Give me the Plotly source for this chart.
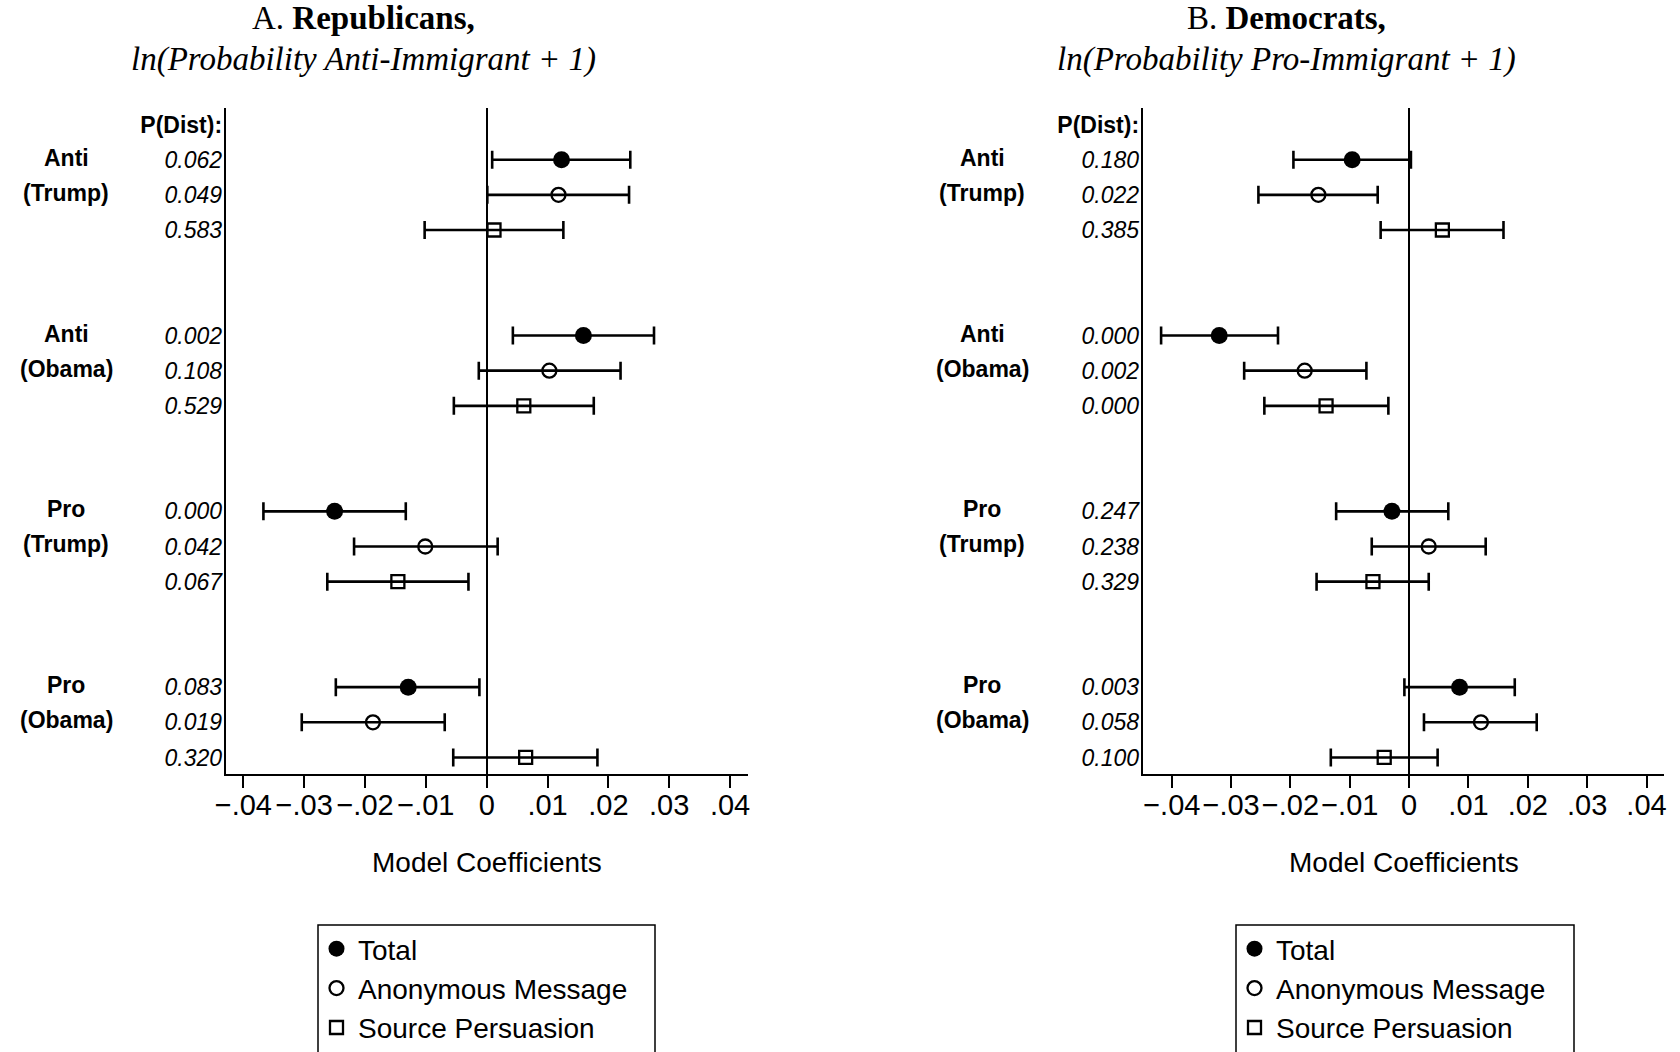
import plotly.graph_objects as go

W, H = 1680, 1052

# ---------------- data ----------------
group_direction = ["Anti", "Anti", "Pro", "Pro"]
group_source = ["(Trump)", "(Obama)", "(Trump)", "(Obama)"]
series_names = ["Total", "Anonymous Message", "Source Persuasion"]
x_tick_vals = [-0.04, -0.03, -0.02, -0.01, 0, 0.01, 0.02, 0.03, 0.04]
x_tick_text = ["\u2212.04", "\u2212.03", "\u2212.02", "\u2212.01", "0", ".01", ".02", ".03", ".04"]

# Panel A: Republicans (coefficient, lower CI, upper CI) per group
rep_total = [0.0123, 0.0159, -0.0250, -0.0129]
rep_total_lo = [0.0009, 0.0043, -0.0367, -0.0248]
rep_total_hi = [0.0236, 0.0275, -0.0133, -0.0012]
rep_anon = [0.0118, 0.0103, -0.0101, -0.0187]
rep_anon_lo = [0.0001, -0.0013, -0.0218, -0.0304]
rep_anon_hi = [0.0234, 0.0220, 0.0018, -0.0069]
rep_source = [0.0012, 0.0061, -0.0146, 0.0064]
rep_source_lo = [-0.0102, -0.0054, -0.0262, -0.0055]
rep_source_hi = [0.0126, 0.0176, -0.0030, 0.0182]
rep_pvals = [["0.062", "0.049", "0.583"],
             ["0.002", "0.108", "0.529"],
             ["0.000", "0.042", "0.067"],
             ["0.083", "0.019", "0.320"]]

# Panel B: Democrats
dem_total = [-0.0096, -0.0320, -0.0029, 0.0085]
dem_total_lo = [-0.0195, -0.0418, -0.0123, -0.0008]
dem_total_hi = [0.0003, -0.0221, 0.0066, 0.0178]
dem_anon = [-0.0153, -0.0176, 0.0033, 0.0121]
dem_anon_lo = [-0.0254, -0.0278, -0.0063, 0.0025]
dem_anon_hi = [-0.0053, -0.0072, 0.0129, 0.0215]
dem_source = [0.0056, -0.0140, -0.0061, -0.0042]
dem_source_lo = [-0.0048, -0.0244, -0.0156, -0.0132]
dem_source_hi = [0.0159, -0.0035, 0.0033, 0.0048]
dem_pvals = [["0.180", "0.022", "0.385"],
             ["0.000", "0.002", "0.000"],
             ["0.247", "0.238", "0.329"],
             ["0.003", "0.058", "0.100"]]

# ---------------- styling ----------------
SANS = "Liberation Sans, Arial, sans-serif"
SERIF = "Liberation Serif, Times New Roman, serif"
symbols = ["circle", "circle-open", "square-open"]
sizes = [17, 14, 13]
GROUP_STEP = 5


def row(g, s):
    return g * GROUP_STEP + s


panels = [
    dict(xa="x", ya="y", leg="legend",
         series=[(rep_total, rep_total_lo, rep_total_hi),
                 (rep_anon, rep_anon_lo, rep_anon_hi),
                 (rep_source, rep_source_lo, rep_source_hi)],
         pvals=rep_pvals),
    dict(xa="x2", ya="y2", leg="legend2",
         series=[(dem_total, dem_total_lo, dem_total_hi),
                 (dem_anon, dem_anon_lo, dem_anon_hi),
                 (dem_source, dem_source_lo, dem_source_hi)],
         pvals=dem_pvals),
]

fig = go.Figure()
for p in panels:
    for s, (coef, lo, hi) in enumerate(p["series"]):
        fig.add_trace(go.Scatter(
            x=coef,
            y=[row(g, s) for g in range(len(coef))],
            mode="markers",
            name=series_names[s],
            marker=dict(symbol=symbols[s], size=sizes[s], color="black",
                        line=dict(color="black", width=2.3 if s else 0)),
            error_x=dict(type="data", symmetric=False,
                         array=[h - c for h, c in zip(hi, coef)],
                         arrayminus=[c - l for c, l in zip(coef, lo)],
                         color="black", thickness=2.6, width=9),
            xaxis=p["xa"], yaxis=p["ya"], legend=p["leg"],
        ))

y_tick_vals = [-1] + [row(g, s) for g in range(4) for s in range(3)]
ydom = [1 - 774 / H, 1 - 108 / H]
yrange = [17.47, -1.47]


def yaxis_cfg(pvals, anchor):
    return dict(domain=ydom, range=yrange, anchor=anchor,
                showline=True, linecolor="black", linewidth=2,
                ticks="", showgrid=False, zeroline=False,
                tickvals=y_tick_vals,
                ticktext=["<b>P(Dist):</b>"] + ["<i>%s</i>" % v for grp in pvals for v in grp],
                ticklabelstandoff=-3,
                tickfont=dict(family=SANS, size=23, color="black"))


def xaxis_cfg(dom, rng, anchor):
    return dict(domain=dom, range=rng, anchor=anchor,
                showline=True, linecolor="black", linewidth=2,
                ticks="outside", ticklen=12, tickwidth=2, tickcolor="black",
                tickvals=x_tick_vals, ticktext=x_tick_text,
                ticklabelstandoff=-8,
                tickfont=dict(family=SANS, size=29, color="black"),
                showgrid=False, zeroline=True, zerolinecolor="black", zerolinewidth=2)


annotations = []
# titles
titles = [
    (363, "A. <b>Republicans,</b>", "<i>ln(Probability Anti-Immigrant + 1)</i>"),
    (1286, "B. <b>Democrats,</b>", "<i>ln(Probability Pro-Immigrant + 1)</i>"),
]
for cx, t1, t2 in titles:
    annotations.append(dict(text=t1, x=cx / W, y=1 - 18 / H, xref="paper", yref="paper",
                            xanchor="center", yanchor="middle", showarrow=False,
                            font=dict(family=SERIF, size=33, color="black")))
    annotations.append(dict(text=t2, x=cx / W, y=1 - 59 / H, xref="paper", yref="paper",
                            xanchor="center", yanchor="middle", showarrow=False,
                            font=dict(family=SERIF, size=33, color="black")))

# group labels
for cx, yref in [(66, "y"), (982, "y2")]:
    for g in range(4):
        for k, lab in enumerate([group_direction[g], group_source[g]]):
            annotations.append(dict(text="<b>%s</b>" % lab, x=cx / W, y=row(g, k),
                                    xref="paper", yref=yref, xanchor="center", yanchor="middle",
                                    yshift=2, showarrow=False,
                                    font=dict(family=SANS, size=23, color="black")))

# axis titles
for xr in ["x domain", "x2 domain"]:
    annotations.append(dict(text="Model Coefficients", x=0.5, y=1 - 862 / H, xref=xr, yref="paper",
                            xanchor="center", yanchor="middle", showarrow=False,
                            font=dict(family=SANS, size=28, color="black")))

# legend frames
shapes = []
for x0, x1 in [(318, 655), (1236, 1574)]:
    shapes.append(dict(type="rect", xref="paper", yref="paper",
                       x0=x0 / W, x1=x1 / W, y0=1 - 925 / H, y1=-0.1,
                       line=dict(color="black", width=1.5), fillcolor="rgba(0,0,0,0)"))

legend_common = dict(xanchor="left", yanchor="top", bgcolor="rgba(0,0,0,0)", borderwidth=0,
                     font=dict(family=SANS, size=28, color="black"), itemwidth=33,
                     tracegroupgap=0)

fig.update_layout(
    width=W, height=H,
    margin=dict(l=0, r=0, t=0, b=0, autoexpand=False),
    paper_bgcolor="white", plot_bgcolor="white",
    xaxis=xaxis_cfg([225.7 / W, 747.7 / W], [-0.0429, 0.0429], "y"),
    yaxis=yaxis_cfg(rep_pvals, "x"),
    xaxis2=xaxis_cfg([1142.7 / W, 1664.3 / W], [-0.0449, 0.0430], "y2"),
    yaxis2=yaxis_cfg(dem_pvals, "x2"),
    legend=dict(x=315 / W, y=1 - 924 / H, **legend_common),
    legend2=dict(x=1233 / W, y=1 - 924 / H, **legend_common),
    annotations=annotations,
    shapes=shapes,
)

fig.write_html("out.html", config={"displayModeBar": False},
               post_script="document.body.style.margin='0';document.body.style.overflow='hidden';")
